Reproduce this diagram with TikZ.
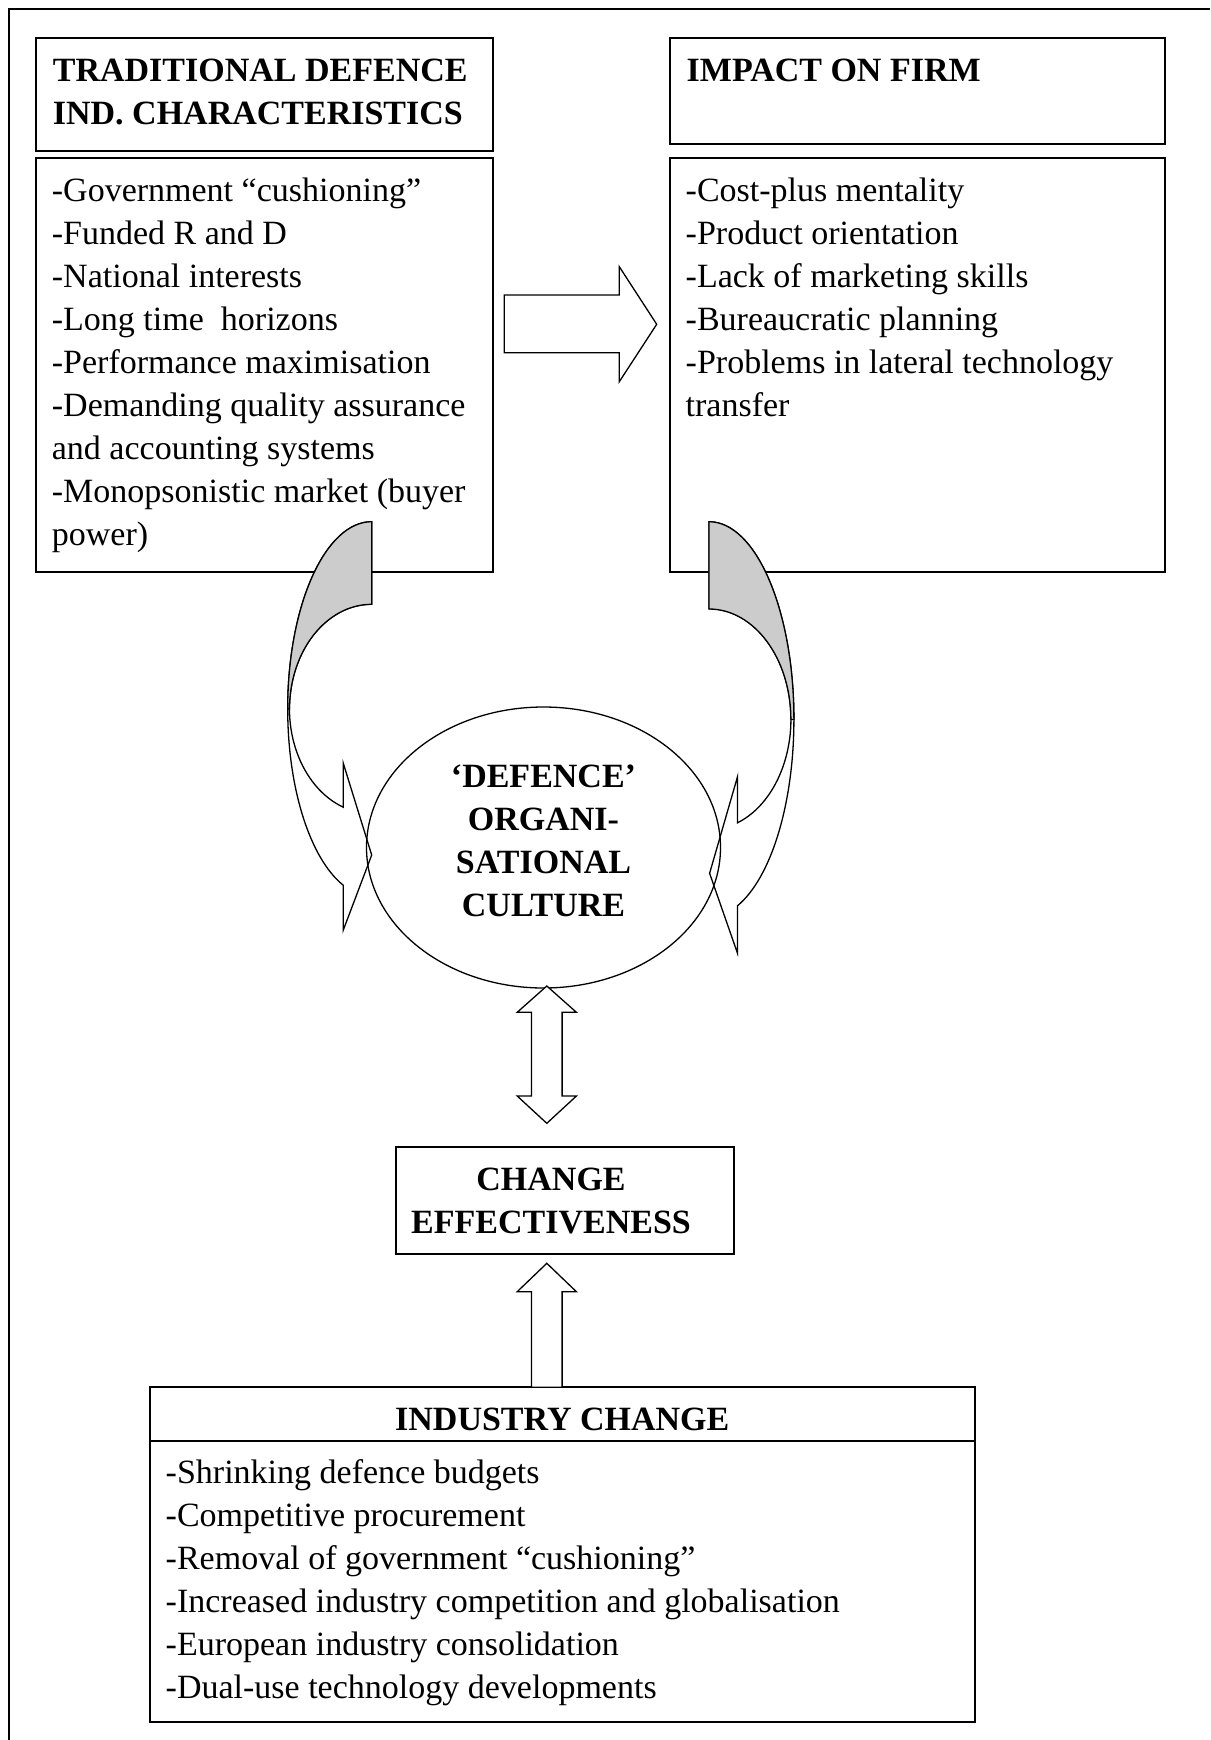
\documentclass[tikz,border=0pt]{standalone}
\usepackage{fontspec}
\setmainfont{Liberation Serif}
\usepackage{tikz}
\usetikzlibrary{
    shapes.geometric,
    positioning
}
\newcommand{\diagfont}{\fontsize{34pt}{43pt}\selectfont}

\begin{document}
\begin{tikzpicture}[
    x=1pt, y=-1pt,
    box/.style={rectangle, draw, line width=2pt, inner sep=0pt, outer sep=0pt, anchor=north west},
    headtext/.style={font=\diagfont\bfseries, align=left, inner sep=0pt, anchor=north west},
    listtext/.style={font=\diagfont, align=left, inner sep=0pt, anchor=north west},
    blockarrow/.style={draw, fill=white, line width=1.3pt, line join=miter},
    curvedarrow/.style={draw, fill=white, line width=1.3pt},
    backface/.style={draw, fill=black!20, line width=1.3pt}
]
    \useasboundingbox (0,0) rectangle (1210,1740);

    % Page frame
    \draw[line width=2pt] (9,1740) |- (1210,9);

    % Traditional characteristics
    \node[box, minimum width=456.8pt, minimum height=113pt] (tradhead) at (35.7,37.7) {};
    \node[headtext] (tradtitle) at ([shift={(17,13.2)}]tradhead.north west) {\strut TRADITIONAL DEFENCE\\IND. CHARACTERISTICS};
    \node[box, below=7pt of tradhead, minimum width=456.8pt, minimum height=414pt] (tradbox) {};
    \node[listtext] (tradlist) at ([shift={(16,13.2)}]tradbox.north west) {\strut -Government “cushioning”\\-Funded R and D\\-National interests\\-Long time\ \ horizons\\-Performance maximisation\\-Demanding quality assurance\\and accounting systems\\-Monopsonistic market (buyer\\power)};

    % Impact on firm
    \node[box, minimum width=495.5pt, minimum height=106.6pt] (impacthead) at (669.5,37.7) {};
    \node[headtext] (impacttitle) at ([shift={(17,13.2)}]impacthead.north west) {\strut IMPACT ON FIRM};
    \node[box, below=13.4pt of impacthead, minimum width=495.5pt, minimum height=414pt] (impactbox) {};
    \node[listtext] (impactlist) at ([shift={(16,13.2)}]impactbox.north west) {\strut -Cost-plus mentality\\-Product orientation\\-Lack of marketing skills\\-Bureaucratic planning\\-Problems in lateral technology\\transfer};

    % Block arrow between the lists
    \draw[blockarrow] (504.3,295) -- (619.3,295) -- (619.3,266.7) -- (656.7,324.3)
        -- (619.3,381.7) -- (619.3,352.7) -- (504.3,352.7) -- cycle;

    % Left curved arrow
    \draw[curvedarrow] (371.7,521.7)
        arc[start angle=-90, end angle=-250.2, x radius=84, y radius=187.3]
        -- (343.3,930) -- (371.7,855) -- (343.3,763.3) -- (343.3,807.2)
        arc[start angle=-249.8, end angle=-90, x radius=82.2, y radius=104.7]
        -- cycle;
    \path[backface] (371.7,521.7)
        arc[start angle=-90, end angle=-180, x radius=84, y radius=187.3]
        -- (289.5,709)
        arc[start angle=180, end angle=270, x radius=82.2, y radius=104.7]
        -- cycle;

    % Right curved arrow
    \draw[curvedarrow] (708.9,521.7)
        arc[start angle=-90, end angle=70.3, x radius=85, y radius=197.8]
        -- (737.5,953.3) -- (709.6,873.3) -- (737.5,776.7) -- (737.5,822.8)
        arc[start angle=69.6, end angle=-90, x radius=82, y radius=110.5]
        -- cycle;
    \path[backface] (708.9,521.7)
        arc[start angle=-90, end angle=0, x radius=85, y radius=197.8]
        -- (790.9,719.5)
        arc[start angle=0, end angle=-90, x radius=82, y radius=110.5]
        -- cycle;

    % Organisational culture
    \node[ellipse, draw, line width=1.3pt, minimum width=354pt, minimum height=281pt, inner sep=0pt,
        font=\diagfont\bfseries, align=center] (culture) at (543.5,847.5) {‘DEFENCE’\\ORGANI-\\SATIONAL\\CULTURE\strut};

    % Two-way arrow
    \draw[blockarrow] (546.8,986) -- (576.4,1012.3) -- (562.1,1012.3) -- (562.1,1096) -- (576.4,1096)
        -- (546.8,1123.3) -- (517.2,1096) -- (531.5,1096) -- (531.5,1012.3) -- (517.2,1012.3) -- cycle;

    % Change effectiveness
    \node[box, minimum width=338.7pt, minimum height=106.7pt, font=\diagfont\bfseries, align=center]
        (change) at (395.7,1147.3) {CHANGE\hspace*{28pt}\\EFFECTIVENESS\hspace*{28pt}};

    % Industry change
    \node[box, minimum width=825.5pt, minimum height=53.4pt, font=\diagfont\bfseries,
        text height=33.4pt, text depth=0pt] (industryhead) at (149.5,1387.3) {INDUSTRY CHANGE};
    \node[box, below=0pt of industryhead, minimum width=825.5pt, minimum height=281pt] (industrybox) {};
    \node[listtext] (industrylist) at ([shift={(16,12.5)}]industrybox.north west) {\strut -Shrinking defence budgets\\-Competitive procurement\\-Removal of government “cushioning”\\-Increased industry competition and globalisation\\-European industry consolidation\\-Dual-use technology developments};

    % Arrow up into change
    \draw[blockarrow] (546.8,1263.3) -- (576.4,1291.7) -- (562.1,1291.7) -- (562.1,1387.3)
        -- (531.5,1387.3) -- (531.5,1291.7) -- (517.2,1291.7) -- cycle;

\end{tikzpicture}
\end{document}
